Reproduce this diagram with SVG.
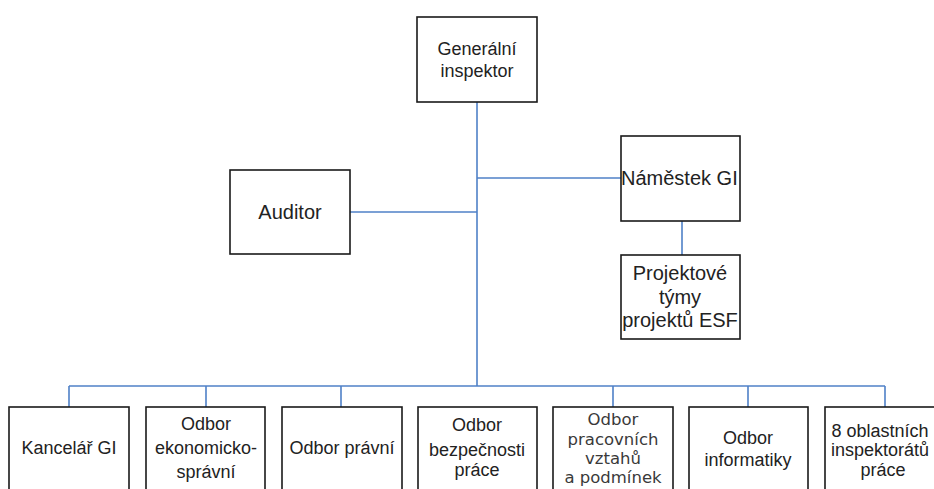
<svg xmlns="http://www.w3.org/2000/svg" width="934" height="489" viewBox="0 0 934 489">
<style>
.box{fill:#fff;stroke:#1a1a1a;stroke-width:1.6}
.lbl{font-family:"Liberation Sans",Arial,sans-serif;font-size:18px;fill:#222;text-anchor:middle}
.big{font-size:20px}
.wide{font-family:"DejaVu Sans",Verdana,sans-serif;font-size:16.5px;fill:#3a3a3a}
.conn{fill:none;stroke:#4f81c7;stroke-width:1.6}
</style>
<rect width="934" height="489" fill="#fff"/>
<g id="connectors">
<path class="conn" d="M477 102V386"/>
<path class="conn" d="M477 178H621"/>
<path class="conn" d="M350 212H477"/>
<path class="conn" d="M682 221V255"/>
<path class="conn" d="M69 386H885"/>
<path class="conn" d="M69 386V407M206 386V407M341 386V407M613 386V407M748 386V407M885 386V407"/>
</g>
<g id="gi"><rect class="box" x="417" y="17" width="120" height="85"/>
<text class="lbl" x="477" y="55">Generální</text><text class="lbl" x="477" y="77">inspektor</text></g>
<g id="auditor"><rect class="box" x="230" y="170" width="120" height="84"/>
<text class="lbl big" x="290" y="219">Auditor</text></g>
<g id="namestek"><rect class="box" x="621" y="136" width="119" height="85"/>
<text class="lbl big" x="621" y="185" style="text-anchor:start">Náměstek GI</text></g>
<g id="projekty"><rect class="box" x="621" y="255" width="119" height="84"/>
<text class="lbl big" x="680" y="280">Projektové</text><text class="lbl big" x="680" y="304">týmy</text><text class="lbl big" x="680" y="327">projektů ESF</text></g>
<g id="kancelar"><rect class="box" x="9" y="407" width="120" height="100"/>
<text class="lbl" x="69" y="454">Kancelář GI</text></g>
<g id="ekonomicko"><rect class="box" x="146" y="407" width="119" height="100"/>
<text class="lbl" x="206" y="430">Odbor</text><text class="lbl" x="206" y="454">ekonomicko-</text><text class="lbl" x="206" y="478">správní</text></g>
<g id="pravni"><rect class="box" x="282" y="407" width="120" height="100"/>
<text class="lbl" x="342" y="454">Odbor právní</text></g>
<g id="bezpecnost"><rect class="box" x="418" y="407" width="119" height="100"/>
<text class="lbl" x="477" y="431">Odbor</text><text class="lbl" x="477" y="456">bezpečnosti</text><text class="lbl" x="477" y="476">práce</text></g>
<g id="pracovni"><rect class="box" x="553" y="407" width="120" height="100"/>
<text class="lbl wide" x="613" y="425">Odbor</text><text class="lbl wide" x="613" y="445">pracovních</text><text class="lbl wide" x="613" y="464">vztahů</text><text class="lbl wide" x="613" y="483">a podmínek</text></g>
<g id="informatika"><rect class="box" x="689" y="407" width="119" height="100"/>
<text class="lbl" x="748" y="444">Odbor</text><text class="lbl" x="748" y="466">informatiky</text></g>
<g id="oblastni"><rect class="box" x="825" y="407" width="120" height="100"/>
<text class="lbl" x="880" y="437">8 oblastních</text><text class="lbl" x="880" y="456">inspektorátů</text><text class="lbl" x="883" y="476">práce</text></g>
</svg>
